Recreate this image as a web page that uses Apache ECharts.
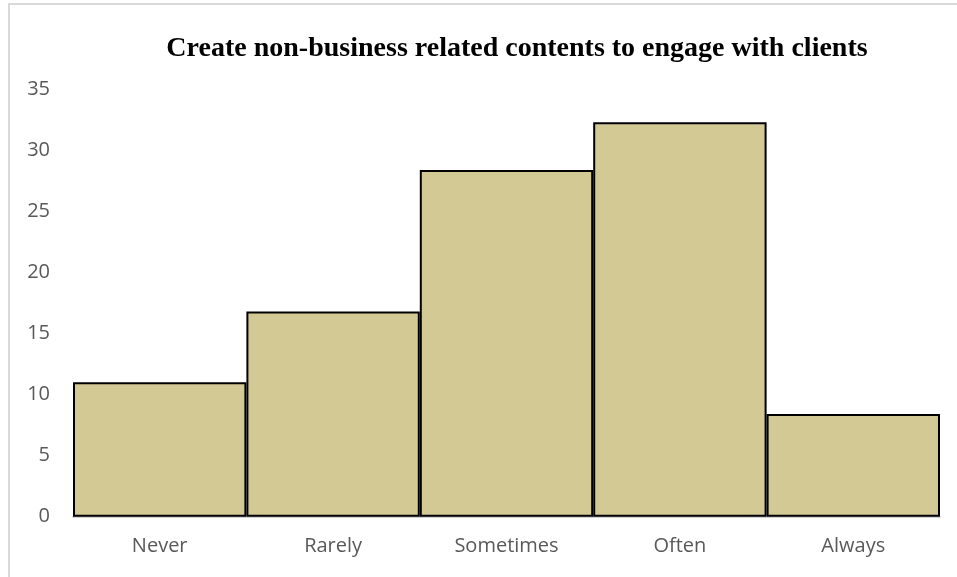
<!DOCTYPE html>
<html>
<head>
<meta charset="utf-8">
<title>Create non-business related contents to engage with clients</title>
<script src="https://cdn.jsdelivr.net/npm/echarts@6/dist/echarts.min.js"></script>
<style>
  html, body { margin: 0; padding: 0; background: #fff; }
  #frame {
    position: absolute; left: 8px; top: 3px; width: 960px; height: 590px;
    border-left: 2px solid #d9d9d9; border-top: 2px solid #d9d9d9;
    box-sizing: border-box;
  }
  #chart { position: absolute; left: 0; top: 0; width: 957px; height: 577px; }
</style>
</head>
<body>
<div id="frame"></div>
<div id="chart"></div>
<script>
// Frequency of posting non-business content
const categories = ['Never', 'Rarely', 'Sometimes', 'Often', 'Always'];
const responses = [11.0, 16.8, 28.4, 32.3, 8.4];
const yTicks = { min: 0, max: 35, interval: 5 };

const chart = echarts.init(document.getElementById('chart'), null, { renderer: 'canvas' });
chart.setOption({
  animation: false,
  title: {
    text: 'Create non-business related contents to engage with clients',
    left: 512, top: 30, textAlign: 'center',
    textStyle: {
      fontFamily: 'Liberation Serif', fontWeight: 'bold', fontSize: 28, color: '#000'
    }
  },
  grid: { left: 73, right: 17, top: 89.3, bottom: 60.3, containLabel: false },
  xAxis: {
    type: 'category',
    data: categories,
    axisLine: { lineStyle: { color: '#bfbfbf', width: 1.5 } },
    axisTick: { show: false },
    axisLabel: { color: '#595959', fontFamily: 'Open Sans', fontSize: 20, margin: 20 }
  },
  yAxis: {
    type: 'value',
    min: yTicks.min, max: yTicks.max, interval: yTicks.interval,
    axisLine: { show: false },
    axisTick: { show: false },
    splitLine: { show: false },
    axisLabel: { color: '#595959', fontFamily: 'Open Sans', fontSize: 20, margin: 23 }
  },
  series: [{
    type: 'bar',
    data: responses,
    barCategoryGap: '0%',
    itemStyle: { color: '#d2c994', borderColor: '#000', borderWidth: 2 }
  }]
});
</script>
</body>
</html>
